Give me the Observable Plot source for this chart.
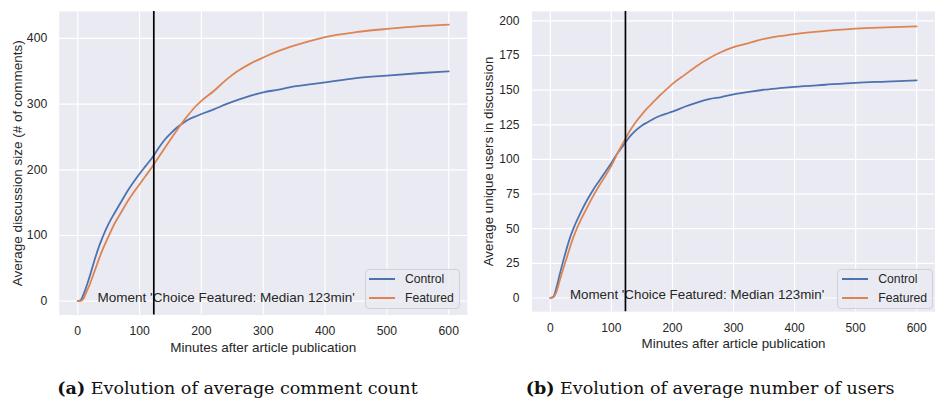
<!DOCTYPE html>
<html>
<head>
<meta charset="utf-8">
<script src="https://cdn.jsdelivr.net/npm/d3@7"></script>
<script src="https://cdn.jsdelivr.net/npm/@observablehq/plot@0.6"></script>
<style>
  html, body { margin: 0; padding: 0; background: #fff; overflow: hidden; }
  #fig { position: relative; width: 935px; height: 399px; overflow: hidden;
         font-family: "Liberation Sans", Arial, sans-serif; color: #262626; }
  .panel { position: absolute; top: 0; }
  .legend { position: absolute; box-sizing: border-box; border: 1px solid #d0d0d8;
            border-radius: 4px; background: rgba(234,234,242,0.85); font-size: 12.2px; }
  .legend .row { position: absolute; left: 0; height: 14px; white-space: nowrap; }
  .legend .swatch { position: absolute; height: 2px; top: 6px; }
  .legend .lab { position: absolute; top: 0; line-height: 14px; }
  .caption { position: absolute; top: 377px; font-family: "DejaVu Serif", serif; font-size: 17.5px;
             line-height: 22px; white-space: nowrap; transform: translateX(-50%); color: #111; }
</style>
</head>
<body>
<div id="fig"></div>
<script>
// Minutes after publication at which both averages are sampled
const minutes = [0, 5, 10, 15, 20, 25, 30, 35, 40, 50, 60, 70, 80, 90, 100, 110, 120, 130, 140, 150,
                 160, 170, 180, 190, 200, 220, 240, 260, 280, 300, 325, 350, 375, 400, 450, 500, 550, 600];

// (a) average discussion size (# of comments)
const commentsControl = [0, 2, 12, 25, 40, 56, 71, 85, 97, 118, 135, 151, 167, 181, 194, 206, 218, 232, 245, 255,
                         264, 271, 277, 281, 285, 292, 300, 307, 313, 318, 322, 327, 330, 333, 339.5, 343.5, 347, 350];
const commentsFeatured = [0, 0.5, 5, 16, 27, 40, 53, 66, 78, 99, 119, 135, 151, 165, 178, 191, 204, 218, 232, 246,
                          260, 273, 285, 296, 305, 320, 337, 351, 362, 371, 381, 389, 396, 402, 409.5, 414.5, 418.5, 421];

// (b) average unique users in discussion
const usersControl = [0, 1, 7.5, 16.5, 25, 33, 40.5, 47, 52.5, 62, 70.5, 78, 84.5, 91, 97.5, 104.5, 110.5, 116.5, 121, 124.5,
                      127, 129.5, 131.5, 133, 134.5, 138, 141, 143.5, 145, 147, 148.8, 150.3, 151.4, 152.4, 153.9, 155.3, 156.2, 157.1];
const usersFeatured = [0, 0.5, 4.5, 12, 19.5, 26.5, 33.5, 40.5, 46.5, 56.5, 65, 73.5, 81, 88, 95.5, 104.5, 112.5, 120.5, 127, 132.5,
                       137.5, 142, 146.5, 150.5, 154.5, 161, 167.5, 173, 177.5, 181, 184, 187, 189, 190.5, 192.7, 194.4, 195.3, 196];

const seriesNames = ["Control", "Featured"];
const seriesColors = ["#4c72b0", "#dd8452"];
const medianMinute = 123;
const momentNote = "Moment 'Choice Featured: Median 123min'";
const xTicks = [0, 100, 200, 300, 400, 500, 600];
const xLabel = "Minutes after article publication";

const commentTicks = [0, 100, 200, 300, 400];
const userTicks = [0, 25, 50, 75, 100, 125, 150, 175, 200];

const fig = document.getElementById("fig");

function toRows(values) {
  return minutes.map((m, i) => ({minute: m, value: values[i]}));
}

function panel({left, width, marginLeft, marginRight, yDomain, yTicks, yLabel, yLabelDx, yTickPad, control, featured}) {
  const chart = Plot.plot({
    width, height: 360,
    marginTop: 11, marginBottom: 45.5, marginLeft, marginRight,
    x: {domain: [-30, 630]},
    y: {domain: yDomain},
    style: {fontFamily: '"Liberation Sans", Arial, sans-serif', fontSize: "12.2px",
            color: "#262626", background: "transparent", overflow: "visible"},
    marks: [
      Plot.frame({fill: "#eaeaf2", stroke: "none"}),
      Plot.gridX(xTicks, {stroke: "#ffffff", strokeOpacity: 1, strokeWidth: 1.2}),
      Plot.gridY(yTicks, {stroke: "#ffffff", strokeOpacity: 1, strokeWidth: 1.2}),
      Plot.axisX(xTicks, {tickSize: 0, tickPadding: 11.5, label: null, fontSize: 12.2}),
      Plot.axisY(yTicks, {tickSize: 0, tickPadding: yTickPad, label: null, fontSize: 12.2}),
      Plot.line(toRows(control), {x: "minute", y: "value", stroke: seriesColors[0], strokeWidth: 1.8, curve: "monotone-x"}),
      Plot.line(toRows(featured), {x: "minute", y: "value", stroke: seriesColors[1], strokeWidth: 1.8, curve: "monotone-x"}),
      Plot.text([momentNote], {x: 32, y: 0, text: d => d, textAnchor: "start", lineAnchor: "middle", dy: -3.5, fontSize: 13.5}),
      Plot.ruleX([medianMinute], {stroke: "#000", strokeWidth: 1.7}),
      Plot.text([xLabel], {frameAnchor: "bottom", text: d => d, textAnchor: "middle", lineAnchor: "middle", dy: 32.7, fontSize: 13.5}),
      Plot.text([yLabel], {frameAnchor: "left", text: d => d, textAnchor: "middle", lineAnchor: "middle", dx: yLabelDx, rotate: -90, fontSize: 13.5})
    ]
  });
  const holder = document.createElement("div");
  holder.className = "panel";
  holder.style.left = left + "px";
  holder.appendChild(chart);
  fig.appendChild(holder);
}

function legend({left, top, width, height, swLeft, swWidth, textLeft, rowCenters}) {
  const box = document.createElement("div");
  box.className = "legend";
  Object.assign(box.style, {left: left + "px", top: top + "px", width: width + "px", height: height + "px"});
  seriesNames.forEach((name, i) => {
    const row = document.createElement("div");
    row.className = "row";
    row.style.top = (rowCenters[i] - 7) + "px";
    row.style.width = width + "px";
    const sw = document.createElement("div");
    sw.className = "swatch";
    Object.assign(sw.style, {left: swLeft + "px", width: swWidth + "px", background: seriesColors[i]});
    const lab = document.createElement("div");
    lab.className = "lab";
    lab.style.left = textLeft + "px";
    lab.textContent = name;
    row.appendChild(sw);
    row.appendChild(lab);
    box.appendChild(row);
  });
  fig.appendChild(box);
}

function caption(centerX, tag, text) {
  const c = document.createElement("div");
  c.className = "caption";
  c.style.left = centerX + "px";
  c.innerHTML = `<b>(${tag})</b> ${text}`;
  fig.appendChild(c);
}

panel({left: 0, width: 470, marginLeft: 58.7, marginRight: 3.2,
       yDomain: [-21, 441], yTicks: commentTicks, yLabel: "Average discussion size (# of comments)",
       yLabelDx: -41.3, yTickPad: 12, control: commentsControl, featured: commentsFeatured});
panel({left: 470, width: 470, marginLeft: 62.2, marginRight: 0.5,
       yDomain: [-9.85, 206.85], yTicks: userTicks, yLabel: "Average unique users in discussion",
       yLabelDx: -43.8, yTickPad: 12.8, control: usersControl, featured: usersFeatured});

legend({left: 365, top: 269, width: 95, height: 39.5, swLeft: 3, swWidth: 26, textLeft: 39, rowCenters: [9.3, 27.7]});
legend({left: 836.7, top: 269, width: 96.3, height: 39.5, swLeft: 4, swWidth: 26.6, textLeft: 40.6, rowCenters: [9.3, 27.7]});

caption(237.5, "a", "Evolution of average comment count");
caption(710, "b", "Evolution of average number of users");
</script>
</body>
</html>
